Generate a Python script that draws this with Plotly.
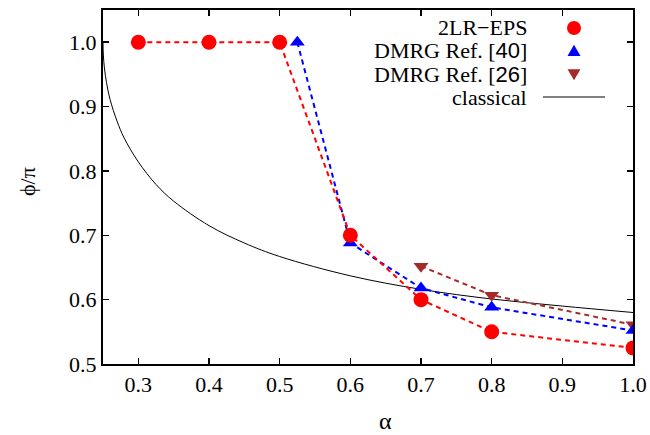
import plotly.graph_objects as go

# Data
eps_alpha = [0.3, 0.4, 0.5, 0.6, 0.7, 0.8, 1.0]
eps_phi = [1.0, 1.0, 1.0, 0.70, 0.60, 0.55, 0.525]

dmrg40_alpha = [0.525, 0.6, 0.7, 0.8, 1.0]
dmrg40_phi = [1.0, 0.688, 0.618, 0.588, 0.552]

dmrg26_alpha = [0.7, 0.8, 1.0]
dmrg26_phi = [0.652, 0.607, 0.561]

classical_alpha = [0.25, 0.2505, 0.252, 0.255, 0.26, 0.27, 0.28, 0.30, 0.325, 0.35,
                   0.40, 0.45, 0.50, 0.60, 0.70, 0.80, 0.90, 1.0]
classical_phi = [1.0, 0.980, 0.960, 0.937, 0.911, 0.877, 0.851, 0.814, 0.779, 0.753,
                 0.715, 0.688, 0.667, 0.637, 0.616, 0.601, 0.590, 0.580]

x_ticks = [0.3, 0.4, 0.5, 0.6, 0.7, 0.8, 0.9, 1.0]
y_ticks = [0.5, 0.6, 0.7, 0.8, 0.9, 1.0]

SERIF = "Liberation Serif, Times New Roman, serif"
RED = "#ff0000"
BLUE = "#0000ff"
BROWN = "#a52a2a"

W, H = 650, 435
# plot area in window pixels: left 103, right 633, top 10, bottom 364
L, T = 103, 10
R = W - 633
B = H - 364
PW, PH = W - L - R, H - T - B

fig = go.Figure()
fig.add_trace(go.Scatter(x=classical_alpha, y=classical_phi, mode="lines",
                         line=dict(color="black", width=1, shape="spline"),
                         name="classical", showlegend=False))
fig.add_trace(go.Scatter(x=dmrg26_alpha, y=dmrg26_phi, mode="lines+markers",
                         line=dict(color=BROWN, width=2, dash="5px,4px"),
                         marker=dict(symbol="triangle-down", size=13, color=BROWN),
                         name="DMRG Ref. [26]", showlegend=False))
fig.add_trace(go.Scatter(x=dmrg40_alpha, y=dmrg40_phi, mode="lines+markers",
                         line=dict(color=BLUE, width=2, dash="5px,4px"),
                         marker=dict(symbol="triangle-up", size=13, color=BLUE),
                         name="DMRG Ref. [40]", showlegend=False))
fig.add_trace(go.Scatter(x=eps_alpha, y=eps_phi, mode="lines+markers",
                         line=dict(color=RED, width=2, dash="5px,4px"),
                         marker=dict(symbol="circle", size=15, color=RED),
                         name="2LR-EPS", showlegend=False))


def px(xw):
    return (xw - L) / PW


def py(yw):
    return (H - B - yw) / PH


# Legend emulation (gnuplot style: text right, key to the right)
rows = [28, 51, 74, 97]
texts = ["2LR\u2212EPS",
         "DMRG Ref. [<span style='font-family:Liberation Sans, Arial, sans-serif'>40</span>]",
         "DMRG Ref. [<span style='font-family:Liberation Sans, Arial, sans-serif'>26</span>]",
         "classical"]
annotations = []
for yrow, t in zip(rows, texts):
    annotations.append(dict(x=px(529), y=py(yrow), xref="paper", yref="paper",
                            text=t, showarrow=False, xanchor="right", yanchor="middle",
                            font=dict(family=SERIF, size=22, color="black")))

shapes = []
kx = 574
r = 7
shapes.append(dict(type="circle", xref="paper", yref="paper",
                   x0=px(kx - r), x1=px(kx + r), y0=py(rows[0] + r), y1=py(rows[0] - r),
                   fillcolor=RED, line=dict(width=0)))
s = 6.5
y0 = rows[1]
shapes.append(dict(type="path", xref="paper", yref="paper",
                   path=f"M {px(kx - s)} {py(y0 + s * 0.75)} L {px(kx + s)} {py(y0 + s * 0.75)} L {px(kx)} {py(y0 - s * 0.95)} Z",
                   fillcolor=BLUE, line=dict(width=0)))
y0 = rows[2]
shapes.append(dict(type="path", xref="paper", yref="paper",
                   path=f"M {px(kx - s)} {py(y0 - s * 0.75)} L {px(kx + s)} {py(y0 - s * 0.75)} L {px(kx)} {py(y0 + s * 0.95)} Z",
                   fillcolor=BROWN, line=dict(width=0)))
shapes.append(dict(type="line", xref="paper", yref="paper",
                   x0=px(543), x1=px(605), y0=py(rows[3]), y1=py(rows[3]),
                   line=dict(color="black", width=1)))

# Axis titles
annotations.append(dict(x=px(27), y=py(182), xref="paper", yref="paper", text="\u03d5/\u03c0",
                        showarrow=False, textangle=-90, xanchor="center", yanchor="middle",
                        font=dict(family=SERIF, size=22, color="black")))
annotations.append(dict(x=px(385), y=py(421), xref="paper", yref="paper", text="\u03b1",
                        showarrow=False, xanchor="center", yanchor="middle",
                        font=dict(family=SERIF, size=24, color="black")))

axis_common = dict(showgrid=False, zeroline=False, showline=True, linecolor="black",
                   linewidth=2, mirror="ticks", ticks="inside", ticklen=6, tickwidth=1.5,
                   tickcolor="black", automargin=False,
                   tickfont=dict(family=SERIF, size=22, color="black"))

fig.update_layout(
    template="none",
    width=W, height=H, autosize=False,
    margin=dict(l=L, r=R, t=T, b=B, pad=0, autoexpand=False),
    paper_bgcolor="white", plot_bgcolor="white",
    showlegend=False,
    xaxis=dict(range=[0.25, 1.0], tickvals=x_ticks, ticktext=[f"{v:.1f}" for v in x_ticks],
               **axis_common),
    yaxis=dict(range=[0.5, 1.05], tickvals=y_ticks, ticktext=[f"{v:.1f}" for v in y_ticks],
               **axis_common),
    annotations=annotations,
    shapes=shapes,
)

fig.write_html(
    "out.html",
    config={"displayModeBar": False, "responsive": False, "staticPlot": True},
    post_script=("document.documentElement.style.overflow='hidden';"
                 "document.body.style.margin='0';document.body.style.overflow='hidden';"
                 "Plotly.relayout('{plot_id}', {width: 650, height: 435});"),
)
